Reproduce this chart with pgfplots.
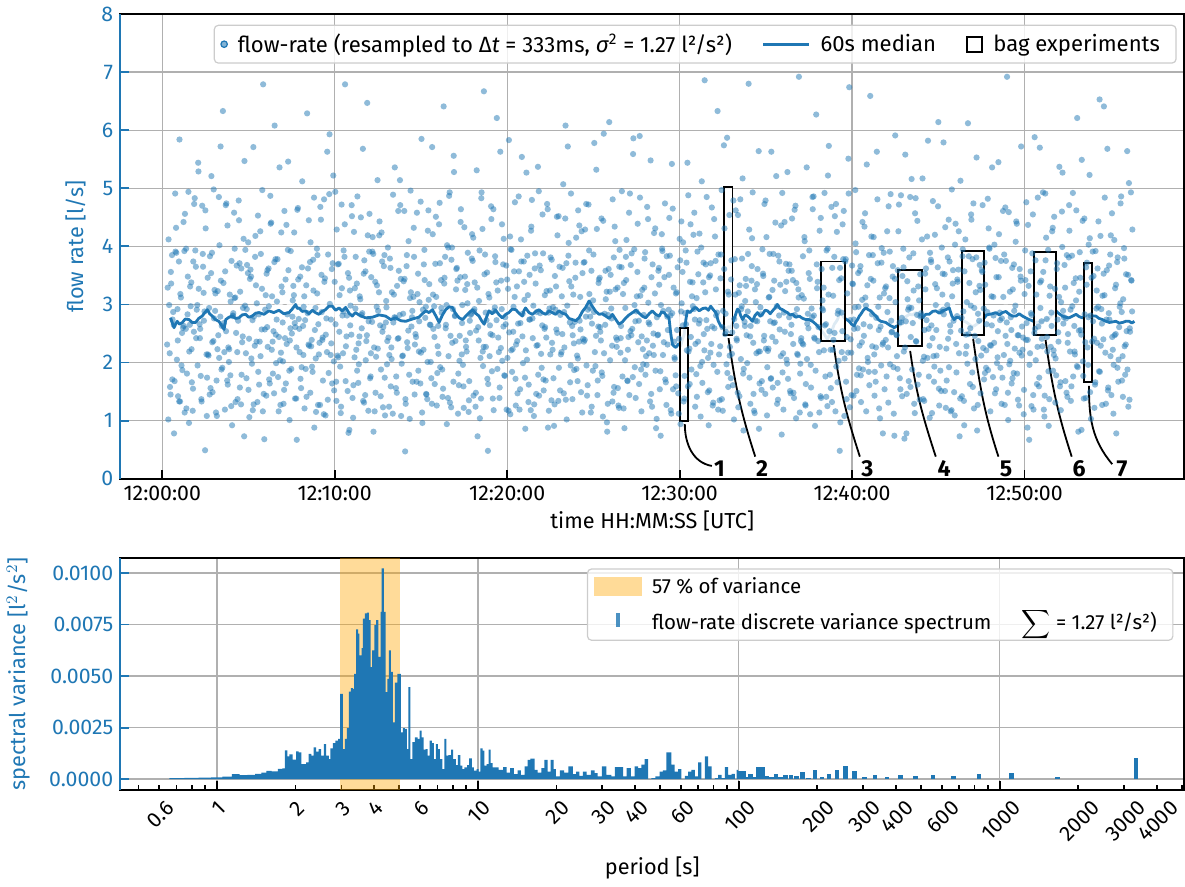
\documentclass[border=0pt]{standalone}
\usepackage{fontspec}
\setmainfont{Fira Sans}
\usepackage{pgfplots}
\usepackage{pgfplotstable}
\pgfplotsset{compat=1.18}
\definecolor{mblue}{HTML}{1F77B4}
\definecolor{gridc}{HTML}{B0B0B0}
\definecolor{bandc}{HTML}{FFA500}

% rotated tick label, centred under its tick like matplotlib's
\newlength\tlw
\newcommand\rl[1]{\settowidth{\tlw}{#1}\rlap{\hspace{\dimexpr-0.75\tlw-5.4pt\relax}\raisebox{\dimexpr-0.25\tlw-9.2pt\relax}{#1}}}

% 60 s running median of the flow rate (t in s after 12:00:00)
\pgfplotstableread[row sep=\\]{
t v\\ 29 2.77\\ 35 2.68\\ 41 2.60\\ 46 2.66\\ 52 2.71\\ 60 2.66\\ 70 2.69\\ 80 2.75\\ 93 2.74\\ 104 2.69\\ 116 2.69\\ 127 2.76\\ 139 2.80\\ 148 2.86\\ 157 2.91\\ 165 2.84\\ 174 2.80\\ 185 2.74\\ 197 2.71\\ 206 2.64\\ 215 2.57\\ 221 2.74\\ 232 2.78\\ 244 2.80\\ 255 2.76\\ 267 2.77\\ 278 2.82\\ 290 2.83\\ 301 2.78\\ 313 2.80\\ 325 2.85\\ 337 2.86\\ 354 2.83\\ 371 2.89\\ 388 2.86\\ 406 2.90\\ 423 2.84\\ 441 2.86\\ 452 2.92\\ 464 3.00\\ 470 2.93\\ 476 2.94\\ 487 2.88\\ 499 2.89\\ 510 2.84\\ 522 2.90\\ 533 2.86\\ 545 2.83\\ 556 2.88\\ 568 2.91\\ 580 2.97\\ 592 2.97\\ 603 2.90\\ 615 2.94\\ 626 2.89\\ 638 2.95\\ 650 2.85\\ 661 2.80\\ 672 2.86\\ 684 2.82\\ 707 2.77\\ 731 2.78\\ 754 2.82\\ 777 2.80\\ 795 2.74\\ 812 2.77\\ 830 2.72\\ 847 2.71\\ 870 2.75\\ 893 2.78\\ 905 2.84\\ 917 2.89\\ 928 2.86\\ 940 2.91\\ 952 2.80\\ 963 2.69\\ 975 2.82\\ 986 2.91\\ 998 2.96\\ 1009 2.95\\ 1021 2.84\\ 1033 2.77\\ 1045 2.74\\ 1056 2.80\\ 1068 2.86\\ 1079 2.91\\ 1090 2.85\\ 1102 2.80\\ 1111 2.72\\ 1120 2.66\\ 1128 2.78\\ 1137 2.89\\ 1148 2.84\\ 1160 2.90\\ 1172 2.82\\ 1183 2.77\\ 1195 2.83\\ 1206 2.86\\ 1218 2.92\\ 1230 2.91\\ 1241 2.85\\ 1253 2.80\\ 1259 2.90\\ 1264 2.94\\ 1276 2.86\\ 1288 2.83\\ 1300 2.88\\ 1311 2.91\\ 1322 2.86\\ 1334 2.83\\ 1346 2.89\\ 1357 2.86\\ 1369 2.83\\ 1380 2.89\\ 1392 2.85\\ 1404 2.83\\ 1415 2.76\\ 1427 2.74\\ 1438 2.72\\ 1450 2.77\\ 1462 2.88\\ 1473 2.95\\ 1485 3.06\\ 1496 2.97\\ 1508 2.88\\ 1520 2.83\\ 1531 2.84\\ 1543 2.80\\ 1555 2.76\\ 1566 2.83\\ 1578 2.74\\ 1589 2.66\\ 1601 2.70\\ 1613 2.77\\ 1624 2.82\\ 1636 2.86\\ 1648 2.90\\ 1659 2.85\\
1670 2.80\\ 1682 2.77\\ 1694 2.84\\ 1705 2.89\\ 1717 2.83\\ 1729 2.80\\ 1737 2.87\\ 1746 2.86\\ 1755 2.80\\ 1763 2.77\\ 1769 2.50\\ 1775 2.31\\ 1781 2.28\\ 1787 2.26\\ 1796 2.32\\ 1804 2.29\\ 1810 2.40\\ 1816 2.49\\ 1822 2.75\\ 1827 2.89\\ 1836 2.86\\ 1845 2.91\\ 1856 2.95\\ 1868 2.89\\ 1880 2.93\\ 1891 2.94\\ 1900 2.90\\ 1908 2.97\\ 1917 2.91\\ 1926 2.86\\ 1934 2.72\\ 1943 2.63\\ 1952 2.60\\ 1961 2.57\\ 1970 2.62\\ 1978 2.60\\ 1987 2.72\\ 1995 2.83\\ 2001 2.92\\ 2007 2.89\\ 2013 2.80\\ 2019 2.74\\ 2028 2.82\\ 2036 2.80\\ 2045 2.76\\ 2053 2.71\\ 2062 2.81\\ 2071 2.86\\ 2080 2.80\\ 2088 2.83\\ 2097 2.90\\ 2106 2.89\\ 2115 2.84\\ 2123 2.89\\ 2132 2.94\\ 2140 3.00\\ 2149 2.93\\ 2158 2.91\\ 2167 2.88\\ 2175 2.86\\ 2184 2.82\\ 2193 2.83\\ 2204 2.78\\ 2216 2.80\\ 2228 2.76\\ 2239 2.74\\ 2250 2.74\\ 2262 2.71\\ 2274 2.66\\ 2285 2.60\\ 2294 2.55\\ 2303 2.49\\ 2309 2.44\\ 2314 2.40\\ 2320 2.46\\ 2326 2.49\\ 2332 2.58\\ 2338 2.66\\ 2344 2.70\\ 2349 2.74\\ 2355 2.82\\ 2361 2.86\\ 2366 2.82\\ 2372 2.77\\ 2381 2.74\\ 2390 2.71\\ 2398 2.66\\ 2407 2.63\\ 2413 2.70\\ 2419 2.74\\ 2425 2.80\\ 2430 2.83\\ 2439 2.90\\ 2448 2.94\\ 2456 2.91\\ 2465 2.89\\ 2474 2.84\\ 2483 2.80\\ 2491 2.74\\ 2500 2.71\\ 2509 2.70\\ 2517 2.69\\ 2526 2.66\\ 2535 2.63\\ 2541 2.62\\ 2546 2.60\\ 2555 2.63\\ 2564 2.63\\ 2572 2.70\\ 2581 2.77\\ 2590 2.80\\ 2599 2.83\\ 2610 2.82\\ 2622 2.86\\ 2633 2.80\\ 2645 2.77\\ 2656 2.83\\ 2668 2.83\\ 2680 2.88\\ 2691 2.89\\ 2703 2.85\\ 2715 2.89\\ 2726 2.91\\ 2738 2.94\\ 2747 2.80\\ 2755 2.74\\ 2764 2.78\\ 2773 2.77\\ 2781 2.73\\ 2790 2.71\\ 2799 2.69\\ 2807 2.66\\ 2816 2.62\\ 2825 2.63\\ 2833 2.66\\ 2842 2.69\\ 2851 2.73\\ 2860 2.77\\ 2868 2.82\\ 2877 2.83\\ 2888 2.84\\ 2900 2.86\\ 2912 2.82\\ 2923 2.86\\ 2935 2.88\\ 2947 2.83\\ 2958 2.80\\ 2970 2.80\\ 2981 2.84\\ 2993 2.80\\ 3004 2.77\\ 3016 2.74\\ 3027 2.72\\ 3039 2.69\\ 3051 2.70\\ 3063 2.71\\ 3074 2.74\\ 3086 2.77\\ 3097 2.83\\ 3109 2.89\\ 3120 2.84\\ 3132 2.80\\ 3143 2.78\\ 3155 2.77\\ 3167 2.80\\ 3179 2.83\\ 3190 2.79\\ 3202 2.77\\ 3213 2.81\\ 3225 2.83\\ 3236 2.80\\ 3248 2.80\\ 3259 2.76\\ 3271 2.74\\ 3283 2.71\\ 3295 2.69\\ 3306 2.70\\ 3318 2.71\\ 3329 2.68\\ 3341 2.69\\ 3352 2.71\\ 3364 2.71\\ 3373 2.68\\ 3382 2.71\\
}\median

\pgfplotsset{
  panel/.style={
    scale only axis, width=530pt,
    axis line style={line width=0.9pt},
    tick align=inside, xtick pos=left, ytick pos=left,
    major tick length=4.5pt, minor tick length=2.6pt,
    every tick/.style={black, line width=0.9pt},
    every y tick/.append style={mblue},
    grid=major, major grid style={gridc, line width=0.65pt},
    tick label style={font=\fontsize{10.6}{12}\selectfont},
    yticklabel style={mblue},
    label style={font=\fontsize{10.8}{13}\selectfont},
    ylabel style={mblue},
    /pgf/number format/assume math mode=true,
    legend cell align=left,
    legend style={font=\fontsize{11}{13}\selectfont, draw=black!20, line width=0.6pt,
      rounded corners=2pt, fill=white, fill opacity=0.8, text opacity=1, draw opacity=1,
      nodes={inner xsep=5pt},
      /tikz/every even column/.append style={column sep=10pt}},
  },
  pts/.style={only marks, mark=*, mark size=1.55pt,
    mark options={mblue, fill=mblue, draw opacity=0, fill opacity=0.5}},
  bag/.style={forget plot, draw=black, line width=0.9pt, fill=white, fill opacity=0.85},
}
\tikzset{
  lead/.style={black, line width=0.9pt},
  num/.style={font=\bfseries\fontsize{11.5}{13}\selectfont, text opacity=1},
}

\begin{document}
\begin{tikzpicture}
\begin{axis}[panel, name=top, at={(0,0)}, anchor=north west, height=231.5pt,
  xmin=-146, xmax=3555, ymin=0, ymax=8,
  xtick={0,600,1200,1800,2400,3000},
  xticklabels={12:00:00,12:10:00,12:20:00,12:30:00,12:40:00,12:50:00},
  ytick={0,1,...,8},
  xlabel={time HH:MM:SS [UTC]}, ylabel={flow rate [l/s]},
  xlabel style={at={(axis description cs:0.5,-0.09)}, anchor=center},
  ylabel style={at={(axis description cs:-0.042,0.5)}, anchor=center},
  legend columns=3,
  legend style={at={(0.993,0.977)}, anchor=north east},
]
\addplot[pts, legend image code/.code={\fill[mblue, fill opacity=0.55] (0.4cm,0cm) circle (1.6pt);}] coordinates {
(17,2.31) (22,4.12) (27,1.58) (31,3.36) (36,2.74) (41,0.78) (46,3.91) (51,2.05) (55,1.42) (60,5.84)
(65,3.12) (70,1.87) (75,2.63) (79,4.56) (84,1.21) (89,3.48) (94,2.19) (99,2.97) (103,1.66) (108,3.74)
(113,4.83) (118,2.42) (123,1.95) (127,3.27) (132,2.58) (137,1.33) (142,3.65) (147,2.88) (151,4.31) (156,1.74)
(161,2.12) (166,3.83) (171,5.21) (175,1.49) (180,2.76) (185,3.19) (190,1.08) (195,2.47) (199,4.02) (204,3.41)
(209,1.91) (214,2.68) (219,3.57) (223,4.74) (228,1.62) (233,2.23) (238,3.05) (243,0.92) (247,2.85) (252,3.96)
(257,2.51) (262,1.37) (267,4.45) (271,3.22) (276,1.79) (281,2.94) (286,5.47) (291,2.16) (295,3.68) (300,1.53)
(305,3.44) (310,2.07) (315,1.18) (319,2.79) (324,4.18) (329,3.02) (334,1.84) (339,2.36) (343,3.87) (348,4.97)
(353,1.46) (358,2.91) (363,3.53) (367,2.27) (372,1.71) (377,4.39) (382,3.14) (387,2.54) (391,6.08) (396,1.99)
(401,3.78) (406,2.44) (411,1.27) (415,3.31) (420,2.02) (425,4.61) (430,1.64) (435,2.83) (439,3.59) (444,2.38)
(449,1.89) (454,3.07) (459,4.24) (463,2.61) (468,0.67) (473,3.43) (478,2.18) (483,1.56) (487,5.12) (492,2.96)
(497,2.73) (502,1.41) (507,3.62) (511,2.29) (516,4.07) (521,1.93) (526,3.24) (531,2.56) (535,1.15) (540,3.85)
(545,2.14) (550,4.68) (555,2.87) (559,1.69) (564,3.39) (569,2.48) (574,5.63) (579,1.82) (583,3.01) (588,2.33)
(593,3.71) (598,1.52) (603,2.66) (607,4.29) (612,2.09) (617,3.16) (622,1.24) (627,2.81) (631,3.93) (636,6.79)
(641,2.45) (646,3.54) (651,0.84) (655,2.98) (660,4.52) (665,1.61) (670,3.28) (675,2.22) (679,4.86) (684,1.97)
(689,3.09) (694,2.59) (699,1.34) (703,3.76) (708,2.04) (713,6.47) (718,2.71) (723,1.73) (727,3.47) (732,4.16)
(737,2.26) (742,1.48) (747,3.33) (751,2.89) (756,4.43) (761,1.88) (766,2.53) (771,3.66) (775,1.09) (780,2.95)
(785,3.98) (790,2.13) (795,1.59) (799,3.21) (804,2.69) (809,5.36) (814,1.76) (819,2.41) (823,3.58) (828,4.71)
(833,1.98) (838,2.84) (843,3.44) (847,1.29) (852,2.35) (857,4.09) (862,3.11) (867,2.62) (871,1.67) (876,3.82)
(881,2.49) (886,4.58) (891,1.86) (895,3.04) (900,2.17) (905,0.96) (910,3.69) (915,2.77) (919,1.45) (924,4.27)
(929,3.35) (934,2.01) (939,5.71) (943,2.58) (948,1.63) (953,3.13) (958,2.28) (963,4.38) (967,1.92) (972,2.86)
(977,1.55) (982,3.46) (987,2.65) (991,4.02) (996,2.11) (1001,1.31) (1006,3.77) (1011,2.92) (1015,5.28) (1020,2.37)
(1025,3.63) (1030,1.81) (1035,2.46) (1039,4.64) (1044,2.99) (1049,1.22) (1054,3.25) (1059,2.19) (1063,3.89) (1068,1.68)
(1073,2.82) (1078,4.21) (1083,1.43) (1087,3.38) (1092,2.55) (1097,0.73) (1102,3.06) (1107,2.08) (1111,4.93) (1116,1.94)
(1121,3.52) (1126,2.27) (1131,1.72) (1135,3.18) (1140,2.64) (1145,4.47) (1150,1.38) (1155,2.89) (1159,3.73) (1164,6.21)
(1169,2.43) (1174,1.57) (1179,3.41) (1183,2.03) (1188,4.13) (1193,2.78) (1198,1.19) (1203,3.27) (1207,2.52) (1212,3.95)
(1217,1.84) (1222,2.96) (1227,4.76) (1231,2.31) (1236,1.47) (1241,3.57) (1246,2.68) (1251,5.54) (1255,1.99) (1260,3.08)
(1265,2.21) (1270,3.84) (1275,1.62) (1279,2.74) (1284,4.34) (1289,2.42) (1294,1.28) (1299,3.36) (1303,2.87) (1308,1.79)
(1313,3.67) (1318,2.15) (1323,4.55) (1327,1.52) (1332,2.61) (1337,3.23) (1342,0.88) (1347,2.93) (1351,3.81) (1356,2.34)
(1361,1.73) (1366,3.49) (1371,2.57) (1375,4.19) (1380,1.91) (1385,2.82) (1390,3.14) (1395,5.07) (1399,2.26) (1404,1.36)
(1409,2.98) (1414,4.06) (1419,1.66) (1423,3.31) (1428,2.47) (1433,1.87) (1438,3.72) (1443,2.12) (1447,4.62) (1452,2.72)
(1457,1.49) (1462,3.54) (1467,2.36) (1471,4.29) (1476,1.95) (1481,2.91) (1486,3.18) (1491,1.14) (1495,2.67) (1500,3.86)
(1505,2.18) (1510,5.32) (1515,1.69) (1519,3.43) (1524,2.53) (1529,1.83) (1534,4.44) (1539,2.84) (1543,3.09) (1548,0.81)
(1553,3.61) (1558,2.04) (1563,2.76) (1567,4.81) (1572,1.58) (1577,3.26) (1582,2.39) (1587,1.26) (1591,3.94) (1596,2.63)
(1601,1.76) (1606,3.37) (1611,2.94) (1615,4.11) (1620,2.22) (1625,1.44) (1630,3.68) (1635,2.58) (1639,5.86) (1644,1.92)
(1649,2.88) (1654,4.39) (1659,1.63) (1663,3.15) (1668,2.45) (1673,1.97) (1678,3.79) (1683,2.11) (1687,4.68) (1692,2.69)
(1697,1.33) (1702,3.47) (1707,2.29) (1711,4.23) (1716,1.86) (1721,2.78) (1726,3.58) (1731,1.54) (1735,2.99) (1740,3.92)
(1745,2.35) (1750,1.71) (1755,3.83) (1759,2.56) (1764,4.49) (1769,1.18) (1774,2.85) (1779,3.29) (1783,2.06) (1788,1.59)
(1793,3.64) (1798,2.41) (1803,0.94) (1807,3.02) (1812,4.07) (1817,1.77) (1822,2.66) (1827,5.44) (1831,2.19) (1836,3.39)
(1841,1.88) (1846,2.97) (1851,4.58) (1855,2.32) (1860,1.41) (1865,3.52) (1870,2.73) (1875,3.98) (1879,1.65) (1884,2.49)
(1889,3.21) (1894,4.85) (1899,2.08) (1903,1.52) (1908,3.71) (1913,2.62) (1918,1.96) (1923,4.17) (1927,2.81) (1932,6.33)
(1937,2.14) (1942,3.45) (1947,1.37) (1951,2.89) (1956,4.31) (1961,2.53) (1966,1.82) (1971,3.17) (1975,2.27) (1980,3.76)
(1985,1.61) (1990,2.75) (1995,4.62) (1999,2.38) (2004,1.23) (2009,3.33) (2014,2.92) (2019,5.17) (2023,1.89) (2028,3.06)
(2033,2.47) (2038,3.87) (2043,1.74) (2047,2.63) (2052,4.14) (2057,1.46) (2062,3.26) (2067,2.16) (2071,3.61) (2076,0.86)
(2081,2.95) (2086,1.68) (2091,3.49) (2095,4.73) (2100,2.24) (2105,1.92) (2110,3.12) (2115,2.71) (2119,5.63) (2124,1.57)
(2129,3.41) (2134,2.36) (2139,1.29) (2143,3.84) (2148,2.57) (2153,4.36) (2158,1.83) (2163,2.86) (2167,3.23) (2172,2.05)
(2177,1.72) (2182,3.69) (2187,2.49) (2191,4.48) (2196,1.48) (2201,2.82) (2206,3.37) (2211,2.13) (2215,6.92) (2220,1.98)
(2225,3.16) (2230,2.31) (2235,4.09) (2239,1.63) (2244,2.67) (2249,3.54) (2254,1.11) (2259,2.93) (2263,4.64) (2268,2.43)
(2273,1.86) (2278,3.28) (2283,2.61) (2287,4.27) (2292,1.39) (2297,3.07) (2302,2.21) (2307,1.76) (2311,3.93) (2316,5.22)
(2321,2.54) (2326,1.56) (2331,3.63) (2335,2.39) (2340,4.52) (2345,1.93) (2350,2.84) (2355,3.42) (2359,0.97) (2364,2.18)
(2369,3.78) (2374,2.07) (2379,1.67) (2383,3.19) (2388,4.91) (2393,2.73) (2398,1.44) (2403,3.35) (2407,2.58) (2412,4.05)
(2417,1.79) (2422,2.96) (2427,3.58) (2431,1.32) (2436,4.42) (2441,2.46) (2446,3.12) (2451,5.41) (2455,2.01) (2460,1.61)
(2465,3.44) (2470,2.28) (2475,4.16) (2479,1.84) (2484,2.77) (2489,3.71) (2494,1.21) (2499,2.62) (2503,3.97) (2508,2.34)
(2513,1.54) (2518,3.31) (2523,2.87) (2527,4.69) (2532,1.97) (2537,2.52) (2542,3.66) (2547,0.74) (2551,3.04) (2556,2.11)
(2561,4.26) (2566,1.73) (2571,2.69) (2575,3.49) (2580,2.19) (2585,5.58) (2590,1.46) (2595,2.91) (2599,3.81) (2604,2.44)
(2609,1.88) (2614,3.24) (2619,4.57) (2623,2.36) (2628,1.62) (2633,3.07) (2638,2.79) (2643,4.12) (2647,1.37) (2652,2.56)
(2657,3.62) (2662,2.08) (2667,1.76) (2671,3.89) (2676,2.64) (2681,4.78) (2686,1.93) (2691,2.99) (2695,3.28) (2700,6.14)
(2705,2.27) (2710,1.51) (2715,3.53) (2719,2.83) (2724,4.33) (2729,1.69) (2734,2.41) (2739,3.74) (2743,1.16) (2748,3.14)
(2753,2.72) (2758,4.03) (2763,1.83) (2767,3.39) (2772,2.16) (2777,5.13) (2782,1.42) (2787,2.88) (2791,3.57) (2796,2.48)
(2801,1.98) (2806,3.83) (2811,2.59) (2815,4.46) (2820,1.58) (2825,2.94) (2830,3.21) (2835,0.83) (2839,2.37) (2844,3.68)
(2849,2.12) (2854,4.71) (2859,1.71) (2863,3.34) (2868,2.66) (2873,1.87) (2878,3.96) (2883,2.29) (2887,5.36) (2892,2.81)
(2897,1.47) (2902,3.47) (2907,2.54) (2911,4.21) (2916,1.91) (2921,2.76) (2926,3.13) (2931,1.27) (2935,3.75) (2940,2.32)
(2945,4.59) (2950,2.03) (2955,1.64) (2959,3.26) (2964,2.89) (2969,4.08) (2974,1.81) (2979,2.47) (2983,3.61) (2988,5.72)
(2993,2.22) (2998,1.53) (3003,3.42) (3007,2.68) (3012,4.37) (3017,1.96) (3022,2.85) (3027,3.88) (3031,1.19) (3036,2.58)
(3041,3.17) (3046,4.84) (3051,1.74) (3055,2.94) (3060,2.41) (3065,3.56) (3070,1.43) (3075,4.15) (3079,2.19) (3084,0.91)
(3089,3.31) (3094,2.63) (3099,1.86) (3103,4.51) (3108,2.07) (3113,3.71) (3118,2.36) (3123,1.59) (3127,3.04) (3132,5.27)
(3137,2.78) (3142,1.68) (3147,3.85) (3151,2.49) (3156,4.27) (3161,1.34) (3166,2.97) (3171,3.37) (3175,2.14) (3180,4.62)
(3185,1.92) (3190,3.22) (3195,2.56) (3199,5.49) (3204,1.77) (3209,2.83) (3214,3.64) (3219,2.26) (3223,4.03) (3228,1.49)
(3233,3.46) (3238,2.71) (3243,1.22) (3247,3.92) (3252,2.34) (3257,4.43) (3262,1.84) (3267,2.92) (3271,3.15) (3276,6.41)
(3281,2.17) (3286,3.59) (3291,1.57) (3295,2.74) (3300,4.19) (3305,2.44) (3310,1.96) (3315,3.28) (3319,0.78) (3324,3.81)
(3329,2.61) (3334,4.74) (3339,1.69) (3343,3.09) (3348,2.28) (3353,3.52) (3358,1.88) (3363,5.09) (3367,2.53) (3372,3.41)
};
\addlegendentry{flow-rate (resampled to Δ\textit{t} = 333ms, \textit{σ}\textsuperscript{2} = 1.27 l²/s²)}
\addplot[pts, forget plot] coordinates {
(19,3.29) (24,2.99) (29,1.45) (34,3.85) (38,2.87) (43,1.68) (48,4.32) (53,2.92) (58,3.74) (62,1.33)
(67,1.95) (72,2.60) (77,3.92) (82,2.58) (86,1.81) (91,4.94) (96,2.65) (101,3.38) (106,1.17) (110,2.53)
(115,3.93) (120,2.91) (125,5.44) (130,2.66) (134,1.77) (139,4.70) (144,3.20) (149,0.49) (154,2.14) (158,3.46)
(163,2.94) (168,1.56) (173,3.89) (178,2.37) (182,3.25) (187,1.14) (192,2.23) (197,4.85) (202,2.79) (206,1.88)
(211,6.33) (216,2.18) (221,4.71) (226,1.69) (230,2.26) (235,3.17) (240,1.25) (245,2.80) (250,4.58) (254,3.12)
(259,3.67) (264,2.72) (269,3.71) (274,1.28) (278,2.35) (283,4.13) (288,2.98) (293,1.73) (298,3.54) (302,2.41)
(307,3.60) (312,1.98) (317,5.71) (322,2.29) (326,3.33) (331,1.32) (336,2.83) (341,4.26) (346,2.57) (350,1.16)
(355,0.68) (360,3.16) (365,2.61) (370,3.62) (374,1.64) (379,4.41) (384,2.36) (389,1.47) (394,3.78) (398,2.74)
(403,1.75) (408,5.36) (413,2.17) (418,3.21) (422,1.29) (427,2.42) (432,4.37) (437,3.94) (442,1.86) (446,2.59)
(451,2.50) (456,3.32) (461,2.68) (466,1.38) (470,4.63) (475,2.75) (480,3.48) (485,1.92) (490,2.63) (494,3.14)
(499,1.89) (504,6.29) (509,2.31) (514,3.73) (518,2.28) (523,1.84) (528,4.84) (533,2.94) (538,3.96) (542,1.27)
(547,2.34) (552,4.46) (557,2.39) (562,1.11) (566,3.45) (571,2.76) (576,1.36) (581,4.90) (586,2.13) (590,3.61)
(595,5.22) (600,3.39) (605,1.67) (610,2.12) (614,3.70) (619,1.93) (624,4.72) (629,2.16) (634,3.82) (638,1.68)
(643,2.81) (648,0.79) (653,3.24) (658,2.48) (662,1.39) (667,4.25) (672,2.93) (677,3.36) (682,1.65) (686,2.45)
(691,4.50) (696,2.85) (701,3.53) (706,1.44) (710,2.37) (715,4.19) (720,3.91) (725,1.76) (730,2.70) (734,3.87)
(739,1.16) (744,2.10) (749,5.14) (754,3.21) (758,2.64) (763,4.24) (768,1.23) (773,3.85) (778,2.69) (782,1.97)
(787,2.43) (792,3.79) (797,2.26) (802,1.12) (806,3.17) (811,2.77) (816,1.48) (821,4.61) (826,2.82) (830,3.44)
(835,2.11) (840,3.40) (845,0.47) (850,3.66) (854,2.25) (859,1.79) (864,4.96) (869,2.78) (874,3.13) (878,1.45)
(883,2.44) (888,3.18) (893,2.19) (898,1.64) (902,5.85) (907,2.91) (912,3.94) (917,2.96) (922,1.37) (926,4.62)
(931,2.65) (936,1.73) (941,4.21) (946,2.97) (950,3.70) (955,1.26) (960,2.63) (965,4.75) (970,3.42) (974,1.88)
(979,6.41) (984,3.82) (989,2.99) (994,1.39) (998,4.87) (1003,2.46) (1008,3.98) (1013,1.67) (1018,2.80) (1022,3.26)
(1027,3.41) (1032,1.61) (1037,3.47) (1042,2.14) (1046,1.96) (1051,4.33) (1056,2.38) (1061,3.35) (1066,1.15) (1070,2.72)
(1075,2.84) (1080,3.75) (1085,2.88) (1090,1.24) (1094,5.31) (1099,2.61) (1104,3.93) (1109,1.38) (1114,4.30) (1118,2.27)
(1123,3.86) (1128,2.73) (1133,0.48) (1138,3.12) (1142,2.49) (1147,1.85) (1152,4.64) (1157,2.95) (1162,3.38) (1166,1.89)
(1171,2.18) (1176,5.63) (1181,2.92) (1186,3.69) (1190,1.78) (1195,2.66) (1200,3.43) (1205,1.17) (1210,4.17) (1214,2.21)
(1219,2.23) (1224,3.57) (1229,1.72) (1234,3.31) (1238,2.67) (1243,1.19) (1248,4.12) (1253,2.45) (1258,3.74) (1262,1.74)
(1267,5.27) (1272,3.16) (1277,2.74) (1282,1.18) (1286,4.80) (1291,2.98) (1296,3.62) (1301,1.46) (1306,2.30) (1310,4.95)
(1315,2.85) (1320,1.91) (1325,3.88) (1330,2.58) (1334,1.69) (1339,4.73) (1344,2.86) (1349,3.24) (1354,1.35) (1358,2.22)
(1363,0.91) (1368,2.91) (1373,4.51) (1378,1.34) (1382,3.65) (1387,2.14) (1392,2.49) (1397,1.47) (1402,4.48) (1406,3.71)
(1411,5.72) (1416,3.40) (1421,1.95) (1426,2.63) (1430,3.17) (1435,2.70) (1440,4.15) (1445,1.68) (1450,2.36) (1454,3.13)
(1459,4.26) (1464,2.41) (1469,3.73) (1474,2.79) (1478,1.43) (1483,4.72) (1488,2.94) (1493,3.58) (1498,1.86) (1502,2.87)
(1507,1.94) (1512,4.30) (1517,2.62) (1522,3.46) (1526,2.38) (1531,1.77) (1536,5.94) (1541,2.65) (1546,3.22) (1550,1.29)
(1555,6.14) (1560,3.51) (1565,2.29) (1570,1.48) (1574,4.34) (1579,2.43) (1584,3.29) (1589,1.22) (1594,2.17) (1598,3.64)
(1603,3.18) (1608,0.87) (1613,3.82) (1618,1.69) (1622,2.44) (1627,4.91) (1632,2.47) (1637,1.75) (1642,3.95) (1646,2.71)
(1651,3.14) (1656,2.35) (1661,5.90) (1666,1.88) (1670,3.25) (1675,2.82) (1680,3.90) (1685,1.96) (1690,4.47) (1694,2.16)
(1699,5.48) (1704,1.24) (1709,2.50) (1714,3.19) (1718,0.87) (1723,2.47) (1728,3.63) (1733,1.85) (1738,4.21) (1742,2.13)
(1747,3.47) (1752,1.66) (1757,2.79) (1762,2.91) (1766,3.84) (1771,1.12) (1776,4.65) (1781,2.36) (1786,1.78) (1790,3.21)
(1795,1.47) (1800,4.13) (1805,2.88) (1810,3.56) (1814,1.33) (1819,2.85) (1824,3.72) (1829,1.59) (1834,2.24) (1838,4.38)
(1843,3.14) (1848,4.20) (1853,2.74) (1858,1.80) (1862,3.91) (1867,2.67) (1872,1.94) (1877,5.12) (1882,3.38) (1886,2.21)
(1891,3.69) (1896,2.58) (1901,0.92) (1906,3.50) (1910,2.32) (1915,1.26) (1920,4.47) (1925,3.75) (1930,2.86) (1934,1.19)
(1939,1.35) (1944,3.86) (1949,2.61) (1954,5.74) (1958,2.49) (1963,1.97) (1968,3.22) (1973,4.54) (1978,1.73) (1982,2.15)
(1987,4.79) (1992,3.78) (1997,2.63) (2002,1.48) (2006,3.20) (2011,4.81) (2016,2.97) (2021,1.81) (2026,2.70) (2030,3.44)
(2035,1.99) (2040,6.80) (2045,2.45) (2050,3.41) (2054,4.93) (2059,1.17) (2064,2.72) (2069,3.35) (2074,2.19) (2078,1.64)
(2083,2.83) (2088,3.95) (2093,2.38) (2098,1.46) (2102,4.16) (2107,2.20) (2112,3.13) (2117,1.72) (2122,2.44) (2126,3.87)
(2131,2.69) (2136,5.21) (2141,1.65) (2146,2.81) (2150,3.34) (2155,0.76) (2160,2.16) (2165,4.42) (2170,3.70) (2174,1.98)
(2179,3.58) (2184,1.51) (2189,2.65) (2194,3.42) (2198,1.39) (2203,4.70) (2208,2.92) (2213,3.26) (2218,1.14) (2222,2.37)
(2227,2.33) (2232,3.10) (2237,1.28) (2242,5.36) (2246,2.84) (2251,3.93) (2256,1.96) (2261,2.78) (2266,4.86) (2270,2.41)
(2275,6.27) (2280,3.39) (2285,2.18) (2290,1.42) (2294,3.61) (2299,2.90) (2304,4.92) (2309,2.66) (2314,1.25) (2318,3.17)
(2323,1.79) (2328,4.68) (2333,2.22) (2338,3.82) (2342,1.16) (2347,4.25) (2352,2.89) (2357,0.48) (2362,3.45) (2366,2.54)
(2371,4.61) (2376,3.74) (2381,1.37) (2386,2.17) (2390,6.74) (2395,2.40) (2400,3.67) (2405,1.43) (2410,2.95) (2414,3.90)
(2419,2.59) (2424,1.90) (2429,3.66) (2434,2.35) (2438,1.88) (2443,4.34) (2448,2.98) (2453,3.33) (2458,1.84) (2462,2.62)
(2467,4.17) (2472,3.85) (2477,2.14) (2482,1.67) (2486,5.63) (2491,2.96) (2496,3.12) (2501,1.95) (2506,2.31) (2510,3.89)
(2515,3.28) (2520,1.76) (2525,2.26) (2530,3.11) (2534,4.90) (2539,2.53) (2544,1.92) (2549,3.44) (2554,2.48) (2558,1.89)
(2563,4.72) (2568,1.54) (2573,2.77) (2578,3.96) (2582,0.69) (2587,2.71) (2592,3.40) (2597,1.68) (2602,4.85) (2606,2.94)
(2611,2.68) (2616,1.29) (2621,4.83) (2626,2.82) (2630,3.31) (2635,1.36) (2640,2.85) (2645,5.17) (2650,2.10) (2654,3.53)
(2659,2.73) (2664,5.82) (2669,2.29) (2674,3.77) (2678,1.13) (2683,2.11) (2688,4.20) (2693,2.56) (2698,3.64) (2702,1.55)
(2707,1.86) (2712,3.98) (2717,2.91) (2722,3.52) (2726,1.22) (2731,2.99) (2736,4.46) (2741,2.64) (2746,1.18) (2750,3.36)
(2755,1.49) (2760,4.39) (2765,2.80) (2770,3.60) (2774,0.73) (2779,2.55) (2784,3.83) (2789,1.34) (2794,4.12) (2798,2.28)
(2803,6.12) (2808,3.37) (2813,2.98) (2818,1.83) (2822,4.74) (2827,2.46) (2832,3.81) (2837,1.27) (2842,2.72) (2846,3.25)
(2851,3.59) (2856,2.25) (2861,3.72) (2866,1.91) (2870,2.87) (2875,4.31) (2880,2.30) (2885,3.14) (2890,1.75) (2894,2.34)
(2899,3.80) (2904,1.99) (2909,5.45) (2914,2.86) (2918,3.75) (2923,1.74) (2928,2.13) (2933,4.67) (2938,2.69) (2942,1.48)
(2947,1.97) (2952,2.78) (2957,3.63) (2962,1.82) (2966,2.24) (2971,4.43) (2976,2.47) (2981,1.26) (2986,3.48) (2990,2.12)
(2995,2.43) (3000,3.18) (3005,2.39) (3010,0.88) (3014,3.32) (3019,2.16) (3024,1.25) (3029,4.55) (3034,2.51) (3038,3.76)
(3043,1.63) (3048,2.62) (3053,5.70) (3058,3.41) (3062,2.28) (3067,1.19) (3072,4.91) (3077,2.75) (3082,3.94) (3086,1.37)
(3091,2.27) (3096,4.26) (3101,2.21) (3106,3.27) (3110,1.78) (3115,2.74) (3120,3.13) (3125,1.66) (3130,4.60) (3134,2.89)
(3139,3.68) (3144,2.76) (3149,1.41) (3154,3.81) (3158,2.19) (3163,1.59) (3168,4.92) (3173,2.63) (3178,3.45) (3182,1.94)
(3187,0.81) (3192,3.90) (3197,2.48) (3202,4.44) (3206,1.38) (3211,2.35) (3216,3.34) (3221,1.96) (3226,5.23) (3230,2.81)
(3235,2.36) (3240,3.49) (3245,1.62) (3250,2.93) (3254,3.62) (3259,1.85) (3264,4.18) (3269,2.67) (3274,2.40) (3278,3.16)
(3283,1.29) (3288,5.68) (3293,2.85) (3298,3.86) (3302,1.44) (3307,2.22) (3312,4.11) (3317,2.49) (3322,3.73) (3326,1.67)
(3331,2.96) (3336,4.86) (3341,2.11) (3346,3.97) (3350,1.79) (3355,2.54) (3360,3.51) (3365,1.36) (3370,4.93) (3374,2.88)
};
\addplot[pts, forget plot] coordinates {
(21,1.02) (26,2.16) (30,3.56) (35,1.71) (40,2.65) (45,4.91) (49,3.89) (54,2.38) (59,1.33) (63,3.18)
(69,2.51) (74,4.42) (78,1.14) (83,3.96) (88,2.83) (93,0.96) (97,3.31) (102,2.23) (107,1.55) (111,4.73)
(117,3.65) (122,2.99) (126,5.29) (131,2.42) (136,1.37) (141,3.87) (145,2.72) (150,4.62) (155,1.08) (159,2.14)
(165,1.45) (170,3.54) (174,2.35) (179,4.98) (184,2.89) (189,1.69) (193,3.23) (198,2.08) (203,5.72) (207,2.63)
(213,3.37) (218,1.19) (222,2.54) (227,4.36) (232,2.01) (237,1.78) (241,3.75) (246,2.81) (251,3.11) (255,1.32)
(261,2.18) (266,4.79) (270,1.57) (275,3.62) (280,2.45) (285,0.73) (289,3.94) (294,2.92) (299,4.07) (303,1.06)
(309,3.48) (314,2.73) (318,1.28) (323,3.82) (328,2.36) (333,4.53) (337,1.62) (342,2.11) (347,3.27) (351,6.79)
(357,2.57) (362,1.43) (366,3.59) (371,2.97) (376,4.87) (381,2.22) (385,1.81) (390,3.73) (395,2.48) (399,3.05)
(405,1.16) (410,2.04) (414,4.24) (419,2.69) (424,1.53) (429,3.43) (433,2.32) (438,5.46) (443,1.01) (447,3.92)
(453,2.79) (458,3.16) (462,1.38) (467,2.26) (472,4.66) (477,2.58) (481,1.72) (486,3.64) (491,2.13) (495,1.21)
(501,3.33) (506,2.85) (510,4.45) (515,1.48) (520,2.39) (525,3.77) (529,0.88) (534,2.07) (539,3.19) (543,2.66)
(549,1.27) (554,3.51) (558,2.43) (563,4.81) (568,1.09) (573,2.18) (577,3.86) (582,5.93) (587,2.74) (591,1.64)
(597,2.02) (602,4.94) (606,1.34) (611,3.69) (616,2.53) (621,1.13) (625,3.28) (630,2.88) (635,4.38) (639,2.28)
(645,1.51) (650,3.46) (654,2.64) (659,4.71) (664,1.05) (669,2.09) (673,3.82) (678,1.86) (683,2.33) (687,3.14)
(693,2.82) (698,5.68) (702,1.31) (707,3.57) (712,2.47) (717,1.17) (721,4.56) (726,2.16) (731,3.91) (735,0.81)
(741,3.39) (746,2.96) (750,2.24) (755,4.19) (760,1.42) (765,3.74) (769,2.61) (774,1.74) (779,3.06) (783,2.37)
(789,1.24) (794,3.63) (798,2.06) (803,4.89) (808,2.78) (813,1.56) (817,3.32) (822,2.42) (827,5.14) (831,1.08)
(837,2.12) (842,4.61) (846,1.37) (851,3.85) (856,2.55) (861,1.03) (865,3.21) (870,2.89) (875,4.32) (879,2.31)
(885,1.67) (890,3.53) (894,2.71) (899,4.77) (904,1.14) (909,2.22) (913,3.42) (918,1.46) (923,2.01) (927,3.08)
(933,2.65) (938,1.29) (942,3.17) (947,2.44) (952,4.51) (957,1.82) (961,2.15) (966,3.71) (971,2.94) (975,1.41)
(981,3.36) (986,2.59) (990,0.94) (995,3.98) (1000,4.93) (1005,1.23) (1009,2.34) (1014,5.56) (1019,2.81) (1023,3.61)
(1029,1.12) (1034,2.03) (1038,4.42) (1043,2.68) (1048,1.59) (1053,3.48) (1057,2.27) (1062,3.02) (1067,1.35) (1071,2.51)
(1077,3.79) (1082,4.15) (1086,2.92) (1091,1.48) (1096,3.29) (1101,2.38) (1105,1.04) (1110,4.83) (1115,2.19) (1119,6.67)
(1125,2.86) (1130,3.55) (1134,1.63) (1139,2.11) (1144,4.69) (1149,2.47) (1153,1.18) (1158,3.83) (1163,2.73) (1167,3.24)
(1173,1.39) (1178,2.25) (1182,4.38) (1187,2.62) (1192,1.77) (1197,3.67) (1201,2.08) (1206,5.83) (1211,1.11) (1215,3.94)
(1221,2.53) (1226,3.13) (1230,1.26) (1235,2.37) (1240,4.86) (1245,1.54) (1249,3.74) (1254,2.84) (1259,3.39) (1263,0.86)
(1269,2.05) (1274,1.32) (1278,3.51) (1283,4.27) (1288,2.76) (1293,1.08) (1297,3.88) (1302,2.29) (1307,5.37) (1311,1.43)
(1317,3.59) (1322,2.64) (1326,1.71) (1331,3.16) (1336,2.43) (1341,4.64) (1345,1.17) (1350,2.14) (1355,3.77) (1359,2.95)
(1365,1.28) (1370,3.31) (1374,2.51) (1379,4.52) (1384,1.52) (1389,2.18) (1393,3.63) (1398,2.87) (1403,6.08) (1407,1.02)
(1413,3.84) (1418,2.69) (1422,4.91) (1427,1.37) (1432,2.33) (1437,3.46) (1441,1.89) (1446,2.07) (1451,4.36) (1455,2.57)
(1461,1.14) (1466,3.72) (1470,2.39) (1475,4.73) (1480,1.61) (1485,3.93) (1489,2.79) (1494,1.24) (1499,3.07) (1503,5.78)
(1509,2.46) (1514,1.44) (1518,3.37) (1523,2.61) (1528,4.48) (1533,1.07) (1537,2.16) (1542,3.58) (1547,0.97) (1551,2.82)
(1557,3.22) (1562,2.93) (1566,1.33) (1571,3.81) (1576,4.09) (1581,2.27) (1585,1.56) (1590,3.65) (1595,2.42) (1599,4.95)
(1605,1.21) (1610,2.04) (1614,3.42) (1619,1.68) (1624,4.58) (1629,2.54) (1633,3.88) (1638,5.59) (1643,2.99) (1647,1.39)
(1653,3.56) (1658,2.72) (1662,4.84) (1667,1.16) (1672,2.23) (1677,3.29) (1681,1.79) (1686,2.38) (1691,3.03) (1695,2.66)
(1701,1.46) (1706,3.69) (1710,2.13) (1715,4.31) (1720,1.03) (1725,2.48) (1729,3.34) (1734,0.74) (1739,3.96) (1743,2.89)
(1749,4.74) (1754,1.27) (1758,2.31) (1763,3.51) (1768,2.81) (1773,5.42) (1777,1.54) (1782,2.09) (1787,3.19) (1791,2.56)
(1797,1.12) (1802,3.76) (1806,4.43) (1811,2.64) (1816,1.38) (1821,3.93) (1825,2.21) (1830,4.88) (1835,1.63) (1839,2.44)
(1845,3.38) (1850,2.92) (1854,1.24) (1859,3.11) (1864,2.36) (1869,4.22) (1873,1.07) (1878,2.01) (1883,3.72) (1887,6.86)
(1893,2.73) (1898,1.49) (1902,3.47) (1907,2.17) (1912,4.67) (1917,1.31) (1921,2.59) (1926,3.26) (1931,1.84) (1935,3.86)
(1941,2.28) (1946,4.97) (1950,1.17) (1955,3.61) (1960,2.84) (1965,5.87) (1969,1.58) (1974,2.12) (1979,3.43) (1983,2.52)
(1989,1.02) (1994,3.17) (1998,2.41) (2003,4.54) (2008,1.42) (2013,2.06) (2017,3.79) (2022,0.83) (2027,2.63) (2031,3.32)
(2037,2.88) (2042,4.29) (2046,1.29) (2051,3.66) (2056,2.34) (2061,1.13) (2065,3.04) (2070,2.71) (2075,5.64) (2079,2.19)
(2085,1.53) (2090,3.53) (2094,2.46) (2099,4.79) (2104,1.09) (2109,2.24) (2113,3.87) (2118,1.73) (2123,3.25) (2127,2.68)
(2133,4.41) (2138,2.97) (2142,1.36) (2147,3.74) (2152,2.11) (2157,4.92) (2161,1.19) (2166,2.53) (2171,3.39) (2175,5.28)
(2181,2.78) (2186,1.47) (2190,3.58) (2195,2.32) (2200,4.63) (2205,1.04) (2209,2.15) (2214,3.12) (2219,1.81) (2223,2.42)
(2229,3.83) (2234,4.16) (2238,1.26) (2243,2.06) (2248,2.59) (2253,3.44) (2257,1.57) (2262,4.85) (2267,2.81) (2271,0.91)
(2277,3.69) (2282,2.37) (2286,1.14) (2291,4.49) (2296,2.93) (2301,3.29) (2305,2.64) (2310,1.41) (2315,3.96) (2319,5.73)
(2325,2.22) (2330,1.32) (2334,3.15) (2339,2.51) (2344,4.73) (2349,1.66) (2353,2.03) (2358,3.63) (2363,2.86) (2367,4.38)
(2373,1.08) (2378,3.78) (2382,2.44) (2387,5.51) (2392,1.23) (2397,2.17) (2401,3.36) (2406,2.74) (2411,4.97) (2415,1.51)
(2421,3.54) (2426,2.29) (2430,1.78) (2435,3.08) (2440,2.66) (2445,4.57) (2449,1.16) (2454,2.08) (2459,3.85) (2463,6.59)
(2469,2.83) (2474,3.41) (2478,1.43) (2483,2.26) (2488,4.81) (2493,2.56) (2497,1.04) (2502,3.72) (2507,0.78) (2511,3.19)
(2517,2.39) (2522,4.26) (2526,1.31) (2531,3.91) (2536,2.72) (2541,3.48) (2545,1.12) (2550,5.91) (2555,2.47) (2559,3.59)
(2565,2.69) (2570,4.88) (2574,1.42) (2579,3.64) (2584,2.26) (2589,0.78) (2593,3.09) (2598,2.95) (2603,1.58) (2607,5.16)
(2613,3.88) (2618,1.13) (2622,2.37) (2627,4.44) (2632,1.79) (2637,3.52) (2641,2.81) (2646,2.03) (2651,1.34) (2655,3.26)
(2661,4.17) (2666,2.58) (2670,1.05) (2675,3.73) (2680,2.42) (2685,1.67) (2689,3.35) (2694,2.12) (2699,4.69) (2703,1.26)
(2709,2.88) (2714,3.17) (2718,5.79) (2723,1.51) (2728,2.24) (2733,3.81) (2737,1.92) (2742,2.53) (2747,4.98) (2751,3.59)
(2757,1.09) (2762,2.32) (2766,3.43) (2771,4.26) (2776,1.38) (2781,2.77) (2785,3.95) (2790,0.92) (2795,2.15) (2799,3.04)
(2805,2.49) (2810,1.63) (2814,4.55) (2819,3.78) (2824,1.21) (2829,2.06) (2833,5.53) (2838,2.84) (2843,3.32) (2847,1.47)
(2853,3.56) (2858,2.93) (2862,1.82) (2867,2.21) (2872,4.82) (2877,3.98) (2881,1.16) (2886,2.64) (2891,3.13) (2895,4.03)
(2901,1.54) (2906,2.09) (2910,3.47) (2915,2.73) (2920,1.29) (2925,4.61) (2929,3.86) (2934,2.46) (2939,6.92) (2943,1.01)
(2949,3.22) (2954,2.56) (2958,1.73) (2963,3.69) (2968,2.98) (2973,4.39) (2977,1.36) (2982,2.17) (2987,3.41) (2991,2.62)
(2997,1.11) (3002,3.93) (3006,4.76) (3011,2.39) (3016,0.67) (3021,3.57) (3025,2.82) (3030,1.44) (3035,5.88) (3039,2.04)
(3045,2.27) (3050,1.59) (3054,3.38) (3059,2.71) (3064,4.93) (3069,1.07) (3073,3.76) (3078,2.44) (3083,1.85) (3087,3.15)
(3093,2.86) (3098,4.32) (3102,2.13) (3107,1.31) (3112,3.61) (3117,2.52) (3121,5.37) (3126,1.18) (3131,3.99) (3135,2.67)
(3141,3.29) (3146,1.48) (3150,2.34) (3155,4.71) (3160,2.91) (3165,3.84) (3169,1.76) (3174,2.19) (3179,3.07) (3183,6.21)
(3189,2.55) (3194,3.46) (3198,0.84) (3203,2.02) (3208,4.48) (3213,1.39) (3217,3.72) (3222,2.78) (3227,4.14) (3231,1.03)
(3237,3.91) (3242,2.41) (3246,1.66) (3251,3.24) (3256,2.96) (3261,6.53) (3265,2.29) (3270,1.27) (3275,3.53) (3279,4.84)
(3285,2.74) (3290,1.52) (3294,3.67) (3299,2.11) (3304,4.57) (3309,1.12) (3313,2.47) (3318,3.34) (3323,1.91) (3327,2.05)
(3333,3.02) (3338,2.87) (3342,1.41) (3347,3.79) (3352,2.31) (3357,5.64) (3361,1.24) (3366,2.59) (3371,3.42) (3375,4.29)
};
\addplot[forget plot, white, opacity=0.75, line width=7pt, line join=round, line cap=round] table[x=t, y=v] {\median};
\addplot[mblue, line width=1.4pt, line join=round,
  legend image code/.code={\draw[mblue, line width=1.4pt] (0cm,0cm) -- (0.8cm,0cm);}] table[x=t, y=v] {\median};
\addlegendentry{60s median}
\addlegendimage{legend image code/.code={\draw[black, line width=1.1pt, sharp corners] (0.27cm,-0.13cm) rectangle (0.53cm,0.13cm);}}
\addlegendentry{bag experiments}
% bag experiments: time span and flow-rate range
\addplot[bag] coordinates {(1802,1.00) (1830,1.00) (1830,2.59) (1802,2.59)} -- cycle;
\addplot[bag] coordinates {(1955,2.47) (1984,2.47) (1984,5.02) (1955,5.02)} -- cycle;
\addplot[bag] coordinates {(2293,2.37) (2376,2.37) (2376,3.74) (2293,3.74)} -- cycle;
\addplot[bag] coordinates {(2559,2.28) (2642,2.28) (2642,3.59) (2559,3.59)} -- cycle;
\addplot[bag] coordinates {(2781,2.48) (2858,2.48) (2858,3.92) (2781,3.92)} -- cycle;
\addplot[bag] coordinates {(3033,2.48) (3109,2.48) (3109,3.91) (3033,3.91)} -- cycle;
\addplot[bag] coordinates {(3208,1.67) (3234,1.67) (3234,3.72) (3208,3.72)} -- cycle;
\draw[lead] (axis cs:1818,0.94) to[out=-90, in=170] (axis cs:1912,0.22);
\draw[lead] (axis cs:1970,2.42) to[out=-82, in=108] (axis cs:2063,0.38);
\draw[lead] (axis cs:2336,2.30) to[out=-82, in=108] (axis cs:2427,0.38);
\draw[lead] (axis cs:2602,2.20) to[out=-82, in=108] (axis cs:2691,0.38);
\draw[lead] (axis cs:2821,2.41) to[out=-82, in=108] (axis cs:2909,0.38);
\draw[lead] (axis cs:3073,2.39) to[out=-82, in=108] (axis cs:3164,0.38);
\draw[lead] (axis cs:3224,1.60) to[out=-90, in=130] (axis cs:3305,0.25);
\node[num] at (axis cs:1939,0.17) {1};
\node[num] at (axis cs:2087,0.17) {2};
\node[num] at (axis cs:2453,0.17) {3};
\node[num] at (axis cs:2720,0.17) {4};
\node[num] at (axis cs:2936,0.17) {5};
\node[num] at (axis cs:3190,0.17) {6};
\node[num] at (axis cs:3339,0.17) {7};
\end{axis}
\draw[mblue, line width=0.9pt] (top.south west) -- (top.north west);

\begin{axis}[panel, name=bot, at={(0,-271pt)}, anchor=north west, height=115.5pt,
  xmode=log, xmin=0.426, xmax=5090, ymin=-0.00052, ymax=0.01073,
  xtick={1,10,100,1000}, xticklabels={\rl{1},\rl{10},\rl{100},\rl{1000}},
  minor xtick={0.5,0.7,0.8,0.9,5,7,8,9,50,70,80,90,500,700,800,900,5000},
  extra x ticks={0.6,2,3,4,6,20,30,40,60,200,300,400,600,2000,3000,4000},
  extra x tick labels={\rl{0.6},\rl{2},\rl{3},\rl{4},\rl{6},\rl{20},\rl{30},\rl{40},\rl{60},\rl{200},\rl{300},\rl{400},\rl{600},\rl{2000},\rl{3000},\rl{4000}},
  extra x tick style={grid=none, major tick length=2.6pt},
  xticklabel style={rotate=45, anchor=base west, inner sep=0pt},
  ytick={0,0.0025,0.005,0.0075,0.01}, scaled y ticks=false,
  yticklabel style={/pgf/number format/.cd, fixed, fixed zerofill, precision=4},
  xlabel={period [s]}, ylabel={spectral variance [l$^2$/s$^2$]},
  xlabel style={at={(axis description cs:0.5,-0.338)}, anchor=center},
  ylabel style={at={(axis description cs:-0.096,0.5)}, anchor=center},
  legend style={at={(0.99,0.955)}, anchor=north east, row sep=2pt,
    font=\fontsize{10.2}{12}\selectfont},
]
\addplot[fill=bandc, fill opacity=0.4, draw=none,
  legend image code/.code={\fill[bandc, fill opacity=0.4, sharp corners] (0cm,-0.16cm) rectangle (0.85cm,0.16cm);}]
  coordinates {(2.97,-0.001) (5.05,-0.001) (5.05,0.012) (2.97,0.012)} -- cycle;
\addlegendentry{57 \% of variance}
\addplot[fill=mblue, draw=none, const plot,
  legend image code/.code={\fill[mblue, sharp corners] (0.39cm,-0.12cm) rectangle (0.46cm,0.12cm);}] coordinates {
(0.657,0.00005) (0.75,0.00006) (0.85,0.00007) (0.95,0.00008) (1.05,0.00012) (1.141,0.00024) (1.22,0.0002) (1.307,0.00021) (1.40,0.00026) (1.48,0.00032)
(1.548,0.0004) (1.62,0.00038) (1.713,0.0005) (1.78,0.00052) (1.821,0.0014) (1.86,0.0011) (1.896,0.0012) (1.95,0.00095) (2.009,0.00135) (2.057,0.0013)
(2.106,0.00073) (2.194,0.00081) (2.247,0.00122) (2.301,0.00114) (2.349,0.00154) (2.398,0.00133) (2.455,0.00146) (2.506,0.00114) (2.567,0.0017) (2.620,0.00114)
(2.683,0.00097) (2.723,0.00149) (2.779,0.00175) (2.845,0.00187) (2.913,0.00195) (2.966,0.00414) (3.036,0.00146) (3.090,0.00195) (3.145,0.00247) (3.202,0.00425)
(3.259,0.00442) (3.318,0.00438) (3.357,0.00511) (3.416,0.00727) (3.477,0.00706) (3.518,0.00601) (3.582,0.00636) (3.625,0.00779) (3.689,0.00804) (3.755,0.00808)
(3.822,0.00771) (3.879,0.00544) (3.936,0.00625) (4.007,0.00747) (4.078,0.00771) (4.151,0.00593) (4.238,0.00812) (4.275,0.01023) (4.364,0.00812) (4.429,0.00422)
(4.495,0.00487) (4.562,0.00625) (4.643,0.0052) (4.726,0.00276) (4.810,0.00468) (4.910,0.00511) (5.072,0.00227) (5.163,0.00247) (5.255,0.00244) (5.349,0.00146)
(5.412,0.00446) (5.509,0.00097) (5.608,0.00179) (5.741,0.00203) (5.878,0.00195) (5.984,0.00235) (6.091,0.00203) (6.200,0.00143) (6.311,0.00146) (6.424,0.00114)
(6.539,0.00187) (6.656,0.00175) (6.775,0.00097) (6.896,0.0017) (7.019,0.00146) (7.144,0.00097) (7.314,0.00049) (7.445,0.00195) (7.576,0.00114) (7.712,0.00117)
(7.897,0.00143) (8.039,0.00097) (8.231,0.00068) (8.375,0.00117) (8.577,0.00065) (8.730,0.00049) (8.885,0.00057) (9.097,0.00068) (9.260,0.00101) (9.480,0.00057)
(9.650,0.00041) (9.879,0.00049) (10.06,0.00036) (10.23,0.00149) (10.42,0.00138) (10.60,0.00065) (10.79,0.00073) (10.99,0.00143) (11.18,0.00078) (11.38,0.00057)
(11.72,0.00057) (12.0,0.00045) (12.5,0.00058) (12.9,0.00032) (13.3,0.00054) (13.75,0.00024) (14.2,0.00042) (14.6,0.00021) (15.1,0.00062) (15.5,0.00094)
(15.9,0.001) (16.5,0.00045) (16.95,0.00032) (17.5,0.00054) (18.0,0.00094) (18.5,0.00037) (19.0,0.00094) (19.5,0.00049) (19.9,0.00013) (20.6,0.00042)
(21.4,0.00032) (22.2,0.00062) (23.1,0.00024) (23.8,0.00037) (24.5,0.00016) (25.25,0.00037) (26.1,0.00021) (27.1,0.00042) (28.0,0.00029) (28.8,0.00013)
(29.9,0.00062) (31.1,0.00021) (32.5,0.00013) (33.5,0.00058) (34.6,0.00058) (36.0,0.00013) (37.2,0.00054) (38.6,0.00013) (39.9,0.00062) (41.1,0.00054)
(42.3,0.0007) (43.6,0.00097) (44.9,0) (46.2,0.00005) (47.9,0.00013) (49.75,0.00037) (51.2,0.00042) (52.8,0.0013) (55.2,0.0007) (56.8,0.00037)
(58.5,0.00049) (60.3,0) (62.1,0.00016) (63.9,0.00037) (65.8,0.00045) (67.8,0.00013) (69.9,0.00081) (71.9,0) (74.1,0.0011) (76.3,0.00062)
(78.6,0) (81.0,0.00005) (83.4,0.00021) (85.9,0.00005) (88.4,0.00058) (91.1,0.00021) (93.8,0.00026) (96.6,0) (98.0,0.00045) (99.5,0)
} \closedcycle;
\addlegendentry{flow-rate discrete variance spectrum\hspace{15pt}$\displaystyle\sum$ = 1.27 l²/s²)}
% long periods: single spectral lines at T = 3330 s / k
\addplot[forget plot, ycomb, mblue, line width=2.3pt] coordinates {
(3330,0.00103) (1665,0.0001) (1110,0.0003) (832.5,0.00025) (666,0.00013) (555,0.0002) (475.7,0.00013) (416.3,0.00018) (370,0.00011) (333,0.0002)
(302.7,0.00011) (277.5,0.0004) (256.2,0.00062) (237.9,0.00046) (222,0.00023) (208.1,0.0001) (195.9,0.00046) (185,0.00007) (175.3,0.00033) (166.5,0.00013)
(158.6,0.0002) (151.4,0.00018) (144.8,0.0001) (138.75,0.00025) (133.2,0.00008) (128.1,0.00013) (123.3,0.00057) (118.9,0.00057) (114.8,0.0001) (111,0.00025)
(107.4,0.0001) (104.1,0.0004) (100.9,0.0004)
};
\end{axis}
\draw[mblue, line width=0.9pt] (bot.south west) -- (bot.north west);
\end{tikzpicture}
\end{document}
